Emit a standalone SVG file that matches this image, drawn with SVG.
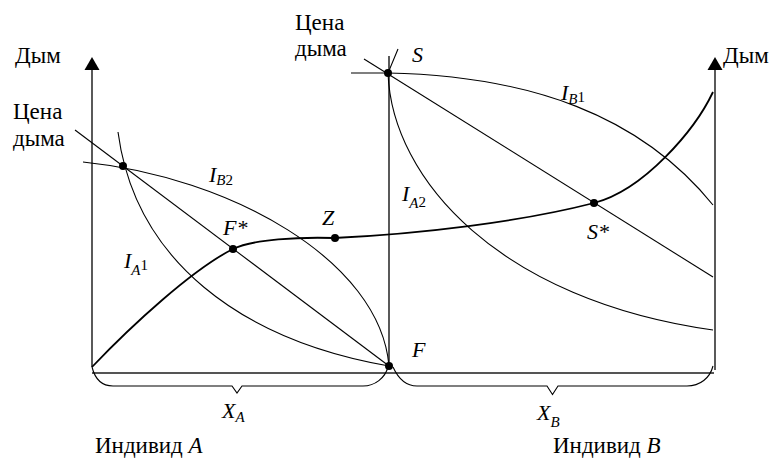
<svg xmlns="http://www.w3.org/2000/svg" width="773" height="459" viewBox="0 0 773 459">
<style>
.ln{fill:none;stroke:#000;stroke-width:1.1}
.bold{fill:none;stroke:#000;stroke-width:1.8}
.ax{fill:none;stroke:#000;stroke-width:1.3}
.base{fill:none;stroke:#555;stroke-width:1.8}
text{font-family:"Liberation Serif","Times New Roman",serif;fill:#000}
.t{font-size:23px}
.i{font-size:22px;font-style:italic}
.sb{font-size:15px;font-style:italic}
.nm{font-size:15px;font-style:normal}
</style>
<rect width="773" height="459" fill="#fff"/>
<g id="axes">
<line class="ax" x1="92" y1="68" x2="92" y2="367"/>
<polygon points="92,57 84.5,70 99.5,70" fill="#000"/>
<line class="ax" x1="715" y1="68" x2="715" y2="370"/>
<polygon points="715,57 707.5,70 722.5,70" fill="#000"/>
<line class="ax" x1="389" y1="56" x2="389" y2="366"/>
<line class="base" x1="92" y1="373" x2="714" y2="373"/>
</g>
<g id="braces">
<path class="ln" d="M92,367 C95,379 102,386 113,386 L232,386 L237,393 L242,386 L363,386 C375,386 385,378 388,367"/>
<path class="ln" d="M393,367 C398,378 406,386 417,386 L547,386 L552.5,394.5 L558,386 L687,386 C700,386 710,378 713,366"/>
</g>
<g id="curves">
<line class="ln" x1="75" y1="130" x2="389" y2="366"/>
<path class="ln" d="M83,162 C230,177 380,260 389,366"/>
<path class="ln" d="M118,132 C135,260 240,340 389,366"/>
<line class="ln" x1="364" y1="59" x2="713" y2="277"/>
<path class="ln" d="M351,73 L388,73 C530,76 640,115 713,205"/>
<path class="ln" d="M398,49 L388,73 C392,180 500,300 713,330"/>
<path class="bold" d="M92,367 C132,325 193,269 233,249 C253,239 300,237 334,238 C420,234 520,222 594,203 C644,190 695,130 713,92"/>
</g>
<g id="points" fill="#000">
<circle cx="123" cy="166" r="4"/>
<circle cx="233" cy="249" r="4"/>
<circle cx="335" cy="238" r="4"/>
<circle cx="594" cy="203" r="4"/>
<circle cx="388" cy="73" r="4"/>
<circle cx="389" cy="366" r="4"/>
</g>
<g id="labels">
<text class="t" x="15" y="63">Дым</text>
<text class="t" x="723" y="63">Дым</text>
<text class="t" x="13" y="119">Цена</text>
<text class="t" x="13" y="146">дыма</text>
<text class="t" x="295" y="30">Цена</text>
<text class="t" x="295" y="56">дыма</text>
<text class="t" x="95" y="453">Индивид  <tspan font-style="italic">A</tspan></text>
<text class="t" x="553" y="453">Индивид  <tspan font-style="italic">B</tspan></text>
<text class="i" x="412" y="62">S</text>
<text class="i" x="223" y="235">F*</text>
<text class="i" x="322" y="225">Z</text>
<text class="i" x="412" y="357">F</text>
<text class="i" x="587" y="239">S*</text>
<text class="i" x="209" y="182">I<tspan class="sb" dy="3">B</tspan><tspan class="nm">2</tspan></text>
<text class="i" x="561" y="100">I<tspan class="sb" dy="4">B</tspan><tspan class="nm" dy="-2">1</tspan></text>
<text class="i" x="124" y="268">I<tspan class="sb" dy="7">A</tspan><tspan class="nm" dy="-5">1</tspan></text>
<text class="i" x="402" y="201">I<tspan class="sb" dy="7">A</tspan><tspan class="nm" dy="-1">2</tspan></text>
<text class="i" x="222" y="418">X<tspan class="sb" dy="4">A</tspan></text>
<text class="i" x="537" y="420">X<tspan class="sb" dy="7">B</tspan></text>
</g>
</svg>
